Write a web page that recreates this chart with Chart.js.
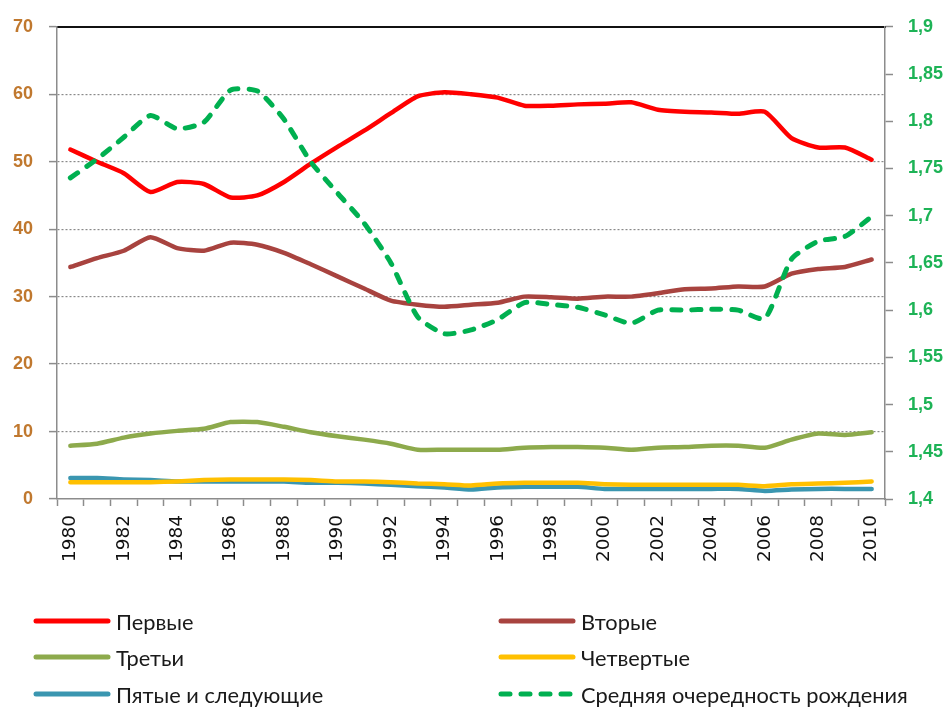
<!DOCTYPE html>
<html>
<head>
<meta charset="utf-8">
<script src="https://cdn.jsdelivr.net/npm/chart.js@4.4.1/dist/chart.umd.min.js"></script>
<style>
  html, body { margin: 0; padding: 0; background: #fff; }
  #wrap { position: relative; width: 952px; height: 707px; }
  #legend { position: absolute; left: 0; top: 0; width: 952px; height: 707px; pointer-events: none;
            font-family: Lato, "Open Sans", sans-serif; font-size: 21.8px; color: #1a1a1a; }
  .li { position: absolute; display: flex; align-items: center; white-space: nowrap; }
  .li svg { margin-right: 5px; }
</style>
</head>
<body>
<div id="wrap">
  <canvas id="c" width="952" height="707"></canvas>
  <div id="legend"></div>
</div>
<script>
const years = ['1980','1981','1982','1983','1984','1985','1986','1987','1988','1989',
               '1990','1991','1992','1993','1994','1995','1996','1997','1998','1999',
               '2000','2001','2002','2003','2004','2005','2006','2007','2008','2009','2010'];

const firstBirths  = [51.8,50.0,48.3,45.5,47.0,46.7,44.7,45.0,47.0,49.7,
                      52.2,54.6,57.2,59.7,60.3,60.0,59.5,58.3,58.3,58.5,
                      58.6,58.8,57.7,57.4,57.3,57.1,57.4,53.5,52.1,52.1,50.3];
const secondBirths = [34.4,35.7,36.8,38.8,37.2,36.8,38.0,37.7,36.5,34.8,
                      33.0,31.2,29.4,28.8,28.5,28.8,29.1,30.0,29.9,29.7,
                      30.0,30.0,30.5,31.1,31.2,31.5,31.5,33.4,34.1,34.4,35.5];
const thirdBirths  = [7.9,8.2,9.1,9.7,10.1,10.4,11.4,11.4,10.7,9.9,
                      9.3,8.8,8.2,7.3,7.3,7.3,7.3,7.6,7.7,7.7,
                      7.6,7.3,7.6,7.7,7.9,7.9,7.6,8.8,9.7,9.5,9.9];
const fourthBirths = [2.5,2.5,2.5,2.5,2.6,2.8,2.9,2.9,2.9,2.8,
                      2.6,2.6,2.5,2.3,2.2,2.0,2.3,2.4,2.4,2.4,
                      2.2,2.1,2.1,2.1,2.1,2.1,1.9,2.2,2.3,2.4,2.6];
const fifthPlus    = [3.1,3.1,2.9,2.8,2.6,2.6,2.6,2.6,2.6,2.4,
                      2.4,2.3,2.1,1.9,1.7,1.4,1.7,1.8,1.8,1.8,
                      1.5,1.5,1.5,1.5,1.5,1.5,1.2,1.4,1.5,1.5,1.5];
const meanOrder    = [1.740,1.760,1.783,1.806,1.792,1.799,1.833,1.832,1.802,1.757,
                      1.724,1.692,1.650,1.593,1.575,1.579,1.590,1.608,1.606,1.603,
                      1.595,1.586,1.600,1.600,1.601,1.600,1.591,1.654,1.673,1.678,1.699];

const seriesNames = ['Первые','Вторые','Третьи','Четвертые','Пятые и следующие','Средняя очередность рождения'];
const leftTicks  = [0,10,20,30,40,50,60,70];
const rightTicks = [1.4,1.45,1.5,1.55,1.6,1.65,1.7,1.75,1.8,1.85,1.9];

const colors = ['#FF0000','#A8433F','#8DAA4C','#FFC000','#3A96B0','#00B050'];

function ds(label, data, color, axis, dashed) {
  return {
    label, data, yAxisID: axis,
    borderColor: color, backgroundColor: color,
    borderWidth: dashed ? 5 : 4.5,
    borderDash: dashed ? [9, 11] : [],
    borderCapStyle: 'round',
    borderJoinStyle: 'round',
    pointRadius: 0, pointHoverRadius: 0,
    tension: 0.2, fill: false
  };
}

const datasets = [
  ds(seriesNames[5], meanOrder,   colors[5], 'y2', true),
  ds(seriesNames[0], firstBirths, colors[0], 'y',  false),
  ds(seriesNames[1], secondBirths,colors[1], 'y',  false),
  ds(seriesNames[2], thirdBirths, colors[2], 'y',  false),
  ds(seriesNames[3], fourthBirths,colors[3], 'y',  false),
  ds(seriesNames[4], fifthPlus,   colors[4], 'y',  false)
];

const numFont = { family: '"Liberation Sans", Arial, sans-serif', size: 18, weight: 'bold' };

const chart = new Chart(document.getElementById('c'), {
  type: 'line',
  data: { labels: years, datasets },
  options: {
    responsive: false,
    animation: false,
    layout: { padding: { top: 21, left: 0, right: 0, bottom: 128 } },
    plugins: { legend: { display: false }, tooltip: { enabled: false } },
    scales: {
      x: {
        type: 'category',
        offset: true,
        grid: { offset: true, drawOnChartArea: false, drawTicks: true, tickLength: 7, tickColor: '#8c8c8c', tickWidth: 1.5 },
        border: { color: '#8c8c8c', width: 1.5 },
        ticks: {
          autoSkip: false, maxRotation: 90, minRotation: 90, padding: 9,
          color: '#111',
          font: { family: '"DejaVu Sans", sans-serif', size: 18.5 },
          callback: (v, i) => (i % 2 === 0 ? years[i] : '')
        },
        afterFit: s => { s.height = 80; }
      },
      xTop: {
        type: 'category', position: 'top', offset: true,
        grid: { display: false, drawTicks: false },
        ticks: { display: false },
        border: { color: '#111', width: 2 },
        afterFit: s => { s.height = 0; }
      },
      y: {
        position: 'left', min: 0, max: 70,
        afterBuildTicks: s => { s.ticks = leftTicks.map(v => ({ value: v })); },
        grid: {
          drawTicks: true, tickLength: 8, tickWidth: 1.5, tickColor: '#8c8c8c', tickBorderDash: [],
          color: ctx => (ctx.tick && (ctx.tick.value === 0 || ctx.tick.value === 70)) ? 'rgba(0,0,0,0)' : '#8a8a8a',
          lineWidth: 1.2
        },
        border: { color: '#8c8c8c', width: 1.5, dash: [2, 2] },
        ticks: { color: '#C0782E', font: numFont, padding: 16 },
        afterFit: s => { s.width = 57; }
      },
      y2: {
        position: 'right', min: 1.4, max: 1.9,
        afterBuildTicks: s => { s.ticks = rightTicks.map(v => ({ value: v })); },
        grid: { drawOnChartArea: false, drawTicks: true, tickLength: 8, tickWidth: 1.5, tickColor: '#8c8c8c' },
        border: { color: '#8c8c8c', width: 1.5 },
        ticks: {
          color: '#1DB356', font: numFont, padding: 15,
          callback: v => String(Number(v.toFixed(2))).replace('.', ',')
        },
        afterFit: s => { s.width = 67; }
      }
    }
  }
});

// HTML legend built from the chart datasets
(function buildLegend() {
  const colX = [33, 498];
  const rowY = [621, 657, 694];
  const host = document.getElementById('legend');
  seriesNames.forEach((name, k) => {
    const d = chart.data.datasets.find(x => x.label === name);
    const col = k % 2, row = Math.floor(k / 2);
    const el = document.createElement('div');
    el.className = 'li';
    el.style.left = colX[col] + 'px';
    el.style.top = (rowY[row] - 14) + 'px';
    el.style.height = '28px';
    const dash = d.borderDash.length ? `stroke-dasharray="${d.borderDash.join(' ')}"` : '';
    el.innerHTML = `<svg width="78" height="10"><line x1="3" y1="5" x2="75" y2="5" stroke="${d.borderColor}" stroke-width="5" stroke-linecap="round" ${dash}/></svg><span>${name}</span>`;
    host.appendChild(el);
  });
})();
</script>
</body>
</html>
